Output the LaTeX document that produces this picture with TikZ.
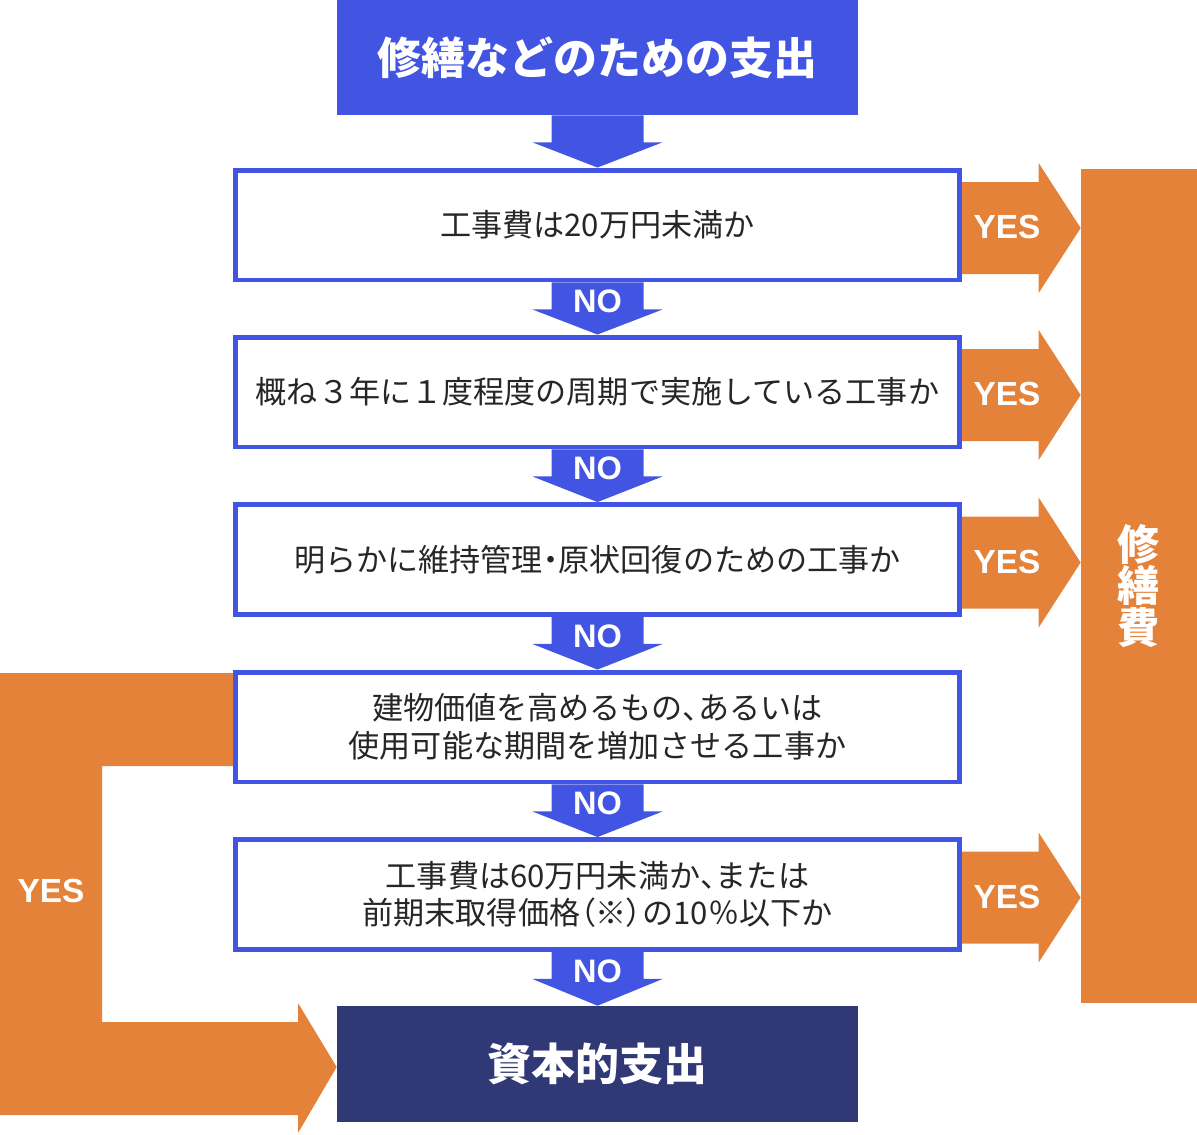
\documentclass[tikz,border=0pt]{standalone}
\usepackage{fontspec}
\setmainfont{Noto Sans CJK JP}
\newfontfamily\paltfont[RawFeature=+palt]{Noto Sans CJK JP}
\newfontfamily\yesnofont{Liberation Sans Bold}
\newcommand{\tight}[1]{{\paltfont #1}}
\usetikzlibrary{calc}
\definecolor{flowblue}{RGB}{66,84,226}
\definecolor{flowora}{RGB}{229,130,58}
\definecolor{flownavy}{RGB}{48,56,117}

\begin{document}
\begin{tikzpicture}[x=0.02cm, y=-0.02cm,
      heading/.style = {shape=rectangle, minimum width=10.42cm,
        minimum height=2.3cm, text=white,
        font=\fontsize{25}{30}\selectfont\bfseries},
      question/.style = {shape=rectangle, draw=flowblue, line width=2.83pt,
        fill=white, minimum width=14.48cm, minimum height=2.2cm,
        align=center, text=black!85,
        font=\fontsize{17.7}{21.5}\selectfont},
      yeslabel/.style = {text=white, font=\yesnofont\fontsize{19}{19}\selectfont},
      nolabel/.style = {text=white, font=\yesnofont\fontsize{18.5}{18.5}\selectfont}]
  \useasboundingbox (0,0) rectangle (1197,1134);

  \node[heading, fill=flowblue] (top) at (597.5,57.5) {修繕などのための支出};
  \node[question] (q1) at (597.5,225) {工事費は20万円未満か};
  \node[question] (q2) at (597.5,392) {概ね３年に１度程度の周期で実施している工事か};
  \node[question] (q3) at (597.5,559.5) {明らかに維持管理\tight{・}原状回復のための工事か};
  \node[question] (q4) at (597.5,727) {建物価値を高めるもの\tight{、}あるいは\\使用可能な期間を増加させる工事か};
  \node[question] (q5) at (597.5,894.5) {工事費は60万円未満か\tight{、}または\\前期末取得価格\tight{（}※\tight{）}の10％以下か};
  \node[heading, fill=flownavy, minimum height=2.32cm] (kap) at (597.5,1064) {資本的支出};
  \node[shape=rectangle, fill=flowora, minimum width=2.32cm, minimum height=16.68cm,
    align=center, text=white, font=\fontsize{24}{23.8}\selectfont\bfseries]
    (shu) at (1139,586) {修\\繕\\費};

  \foreach \a/\b/\t in {top/q1/, q1/q2/NO, q2/q3/NO, q3/q4/NO, q4/q5/NO, q5/kap/NO} {
    \fill[flowblue] ($(\a.south)+(-46,0)$) -- ($(\a.south)+(-46,27)$)
      -- ($(\a.south)+(-65,27)$) -- (\b.north) -- ($(\a.south)+(65,27)$)
      -- ($(\a.south)+(46,27)$) -- ($(\a.south)+(46,0)$) -- cycle;
    \node[nolabel] (no\a) at ($(\a.south)+(0,19)$) {\t};
  }

  \foreach \q in {q1,q2,q3,q5} {
    \fill[flowora] ($(\q.east)+(0,-43)$) -- ($(\q.east -| shu.west)+(-42,-43)$)
      -- ($(\q.east -| shu.west)+(-42,-62)$) -- ($(\q.east -| shu.west)+(0,3)$)
      -- ($(\q.east -| shu.west)+(-42,68)$) -- ($(\q.east -| shu.west)+(-42,49)$)
      -- ($(\q.east)+(0,49)$) -- cycle;
    \node[yeslabel] (yes\q) at ($(\q.east)+(45,2)$) {YES};
  }

  \fill[flowora] ($(q4.west)+(0,-54)$) -- (0,673) -- (0,1115) -- (298,1115)
    -- (298,1133) -- ($(kap.west)+(0,3)$) -- (298,1003) -- (298,1022)
    -- (102,1022) -- (102,766) -- ($(q4.west)+(0,39)$) -- cycle;
  \node[yeslabel] (yesq4) at (51,891) {YES};
\end{tikzpicture}
\end{document}
